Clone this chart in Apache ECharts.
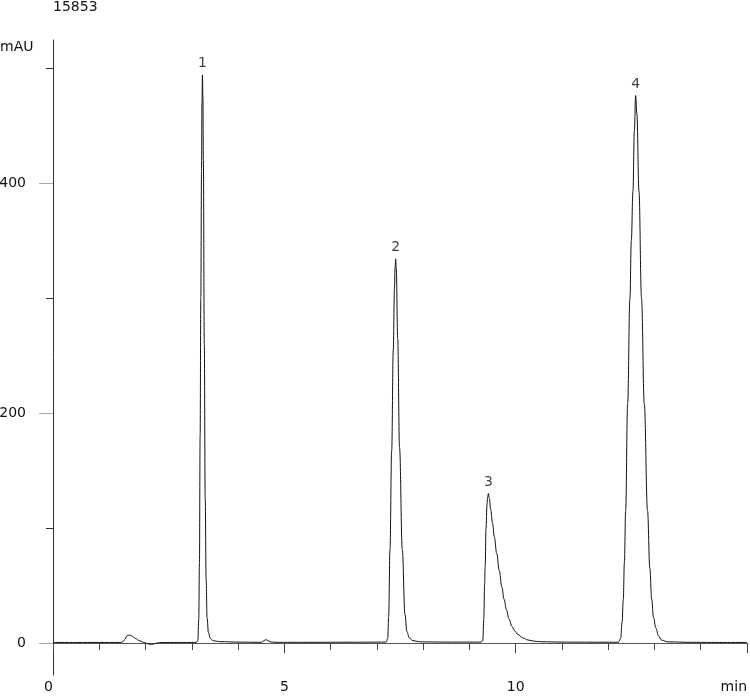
<!DOCTYPE html>
<html>
<head>
<meta charset="utf-8">
<title>Chromatogram 15853</title>
<script src="https://cdn.jsdelivr.net/npm/echarts@6/dist/echarts.min.js"></script>
<style>
  html, body { margin: 0; padding: 0; background: #fff; }
  #chart { width: 750px; height: 698px; }
</style>
</head>
<body>
<div id="chart"></div>
<script>
// retention time (min) and detector signal (mAU)
const timeMin = [
  0, 0.5, 1.0, 1.45, 1.5, 1.55, 1.6, 1.65, 1.7, 1.78, 1.88, 1.98, 2.06, 2.13, 2.2, 2.3, 2.6, 3.0,
  3.1, 3.13, 3.15, 3.165, 3.18, 3.195, 3.21, 3.22, 3.23, 3.24, 3.25, 3.27, 3.29, 3.31, 3.33, 3.36, 3.4, 3.46, 3.6,
  4.0, 4.5, 4.56, 4.6, 4.64, 4.7, 4.8, 5.5, 6.5,
  7.2, 7.235, 7.255, 7.283, 7.32, 7.355, 7.38, 7.395, 7.406, 7.42, 7.45, 7.49, 7.55, 7.607, 7.65, 7.7, 7.78, 7.95,
  8.5, 9.0, 9.25, 9.29, 9.31, 9.33, 9.34, 9.36, 9.38, 9.395, 9.41, 9.43, 9.46, 9.5, 9.54, 9.59, 9.646, 9.7,
  9.75, 9.8, 9.855, 9.92, 9.98, 10.05, 10.15, 10.27, 10.4, 10.55, 11.0, 11.8,
  12.22, 12.27, 12.3, 12.326, 12.35, 12.377, 12.42, 12.47, 12.5, 12.535, 12.565, 12.593, 12.62, 12.665, 12.72,
  12.78, 12.85, 12.9, 12.94, 12.98, 13.03, 13.09, 13.155, 13.29, 13.8, 14.5, 15
];
const mAU = [
  0.5, 0.5, 0.5, 0.5, 0.8, 3, 6.2, 7, 6.2, 4, 1.8, 0.3, -0.8, -1.2, -0.5, 0.4, 0.5, 0.5,
  0.6, 2, 20, 70, 180, 300, 410, 470, 494, 475, 420, 260, 125, 55, 22, 9, 4, 2, 1.2,
  0.8, 0.6, 2, 3, 2.2, 1, 0.6, 0.6, 0.7,
  0.8, 4, 23, 81, 167, 255, 308, 327, 334, 325, 265, 170, 81, 25, 10, 4.5, 2, 1,
  0.8, 0.8, 0.8, 2, 20, 52, 66, 100, 120, 127, 130, 126, 116, 104, 92, 78, 63, 49,
  38, 29, 21, 14.5, 10.5, 7.5, 4.5, 2.6, 1.6, 1.1, 0.8, 0.7,
  0.7, 4, 18, 38, 70, 115, 208, 300, 350, 393, 445, 476, 460, 393, 300,
  208, 115, 65, 38, 22, 13, 6, 2.5, 1, 0.6, 0.5, 0.5
];

// peak annotations
const peakName = ["1", "2", "3", "4"];
const peakTime = [3.23, 7.406, 9.41, 12.593];
const peakHeight = [494, 334, 130, 476];

// axis labels
const yLabelValues = [0, 200, 400];
const yMinorTicks = [100, 300, 500];
const xMaxLabel = "min";

const font = "DejaVu Sans, Verdana, sans-serif";

const trace = timeMin.map((t, i) => [t, mAU[i]]);
const peaks = peakTime.map((t, i) => [t, peakHeight[i], peakName[i]]);

const chart = echarts.init(document.getElementById("chart"), null, {
  width: 750,
  height: 698,
});

chart.setOption({
  animation: false,
  backgroundColor: "#fff",
  textStyle: { fontFamily: font },
  title: {
    text: "15853",
    left: 53,
    top: 0,
    padding: 0,
    textStyle: { fontFamily: font, fontSize: 14, fontWeight: "normal", color: "#111" },
  },
  graphic: [
    {
      type: "text",
      left: 0,
      top: 40,
      style: { text: "mAU", font: "14px " + font, fill: "#111" },
    },
  ],
  grid: { left: 53, right: 3, top: 40, bottom: 23, outerBoundsMode: "none" },
  xAxis: {
    type: "value",
    min: 0,
    max: 15,
    interval: 5,
    offset: -13,
    axisLine: { lineStyle: { color: "#555", width: 1 } },
    axisTick: { length: 10, lineStyle: { color: "#444" } },
    minorTick: { show: true, splitNumber: 5, length: 7, lineStyle: { color: "#444" } },
    splitLine: { show: false },
    axisLabel: {
      margin: 18,
      fontSize: 14,
      color: "#111",
      fontFamily: font,
      alignMinLabel: "right",
      alignMaxLabel: "right",
      formatter: (v) => (v === 15 ? xMaxLabel : String(v)),
    },
  },
  yAxis: [
    {
      type: "value",
      min: -27.8,
      max: 524.3,
      axisLine: { show: true, lineStyle: { color: "#333", width: 1 } },
      axisTick: {
        show: true,
        customValues: yLabelValues,
        length: 14,
        lineStyle: { color: "#aaa" },
      },
      axisLabel: {
        customValues: yLabelValues,
        margin: 27,
        fontSize: 14,
        color: "#111",
        fontFamily: font,
      },
      splitLine: { show: false },
    },
    {
      type: "value",
      position: "left",
      min: -27.8,
      max: 524.3,
      axisLine: { show: false },
      axisTick: {
        show: true,
        customValues: yMinorTicks,
        length: 7,
        lineStyle: { color: "#333" },
      },
      axisLabel: { show: false },
      splitLine: { show: false },
    },
  ],
  series: [
    {
      name: "signal",
      type: "line",
      data: trace,
      showSymbol: false,
      smooth: 0.4,
      smoothMonotone: "x",
      lineStyle: { color: "#111", width: 1 },
      z: 3,
    },
    {
      name: "peaks",
      type: "scatter",
      data: peaks,
      symbolSize: 1,
      itemStyle: { color: "rgba(0,0,0,0)" },
      label: {
        show: true,
        position: "top",
        distance: 4,
        fontSize: 14,
        color: "#111",
        fontFamily: font,
        formatter: (p) => p.data[2],
      },
    },
  ],
});
</script>
</body>
</html>
